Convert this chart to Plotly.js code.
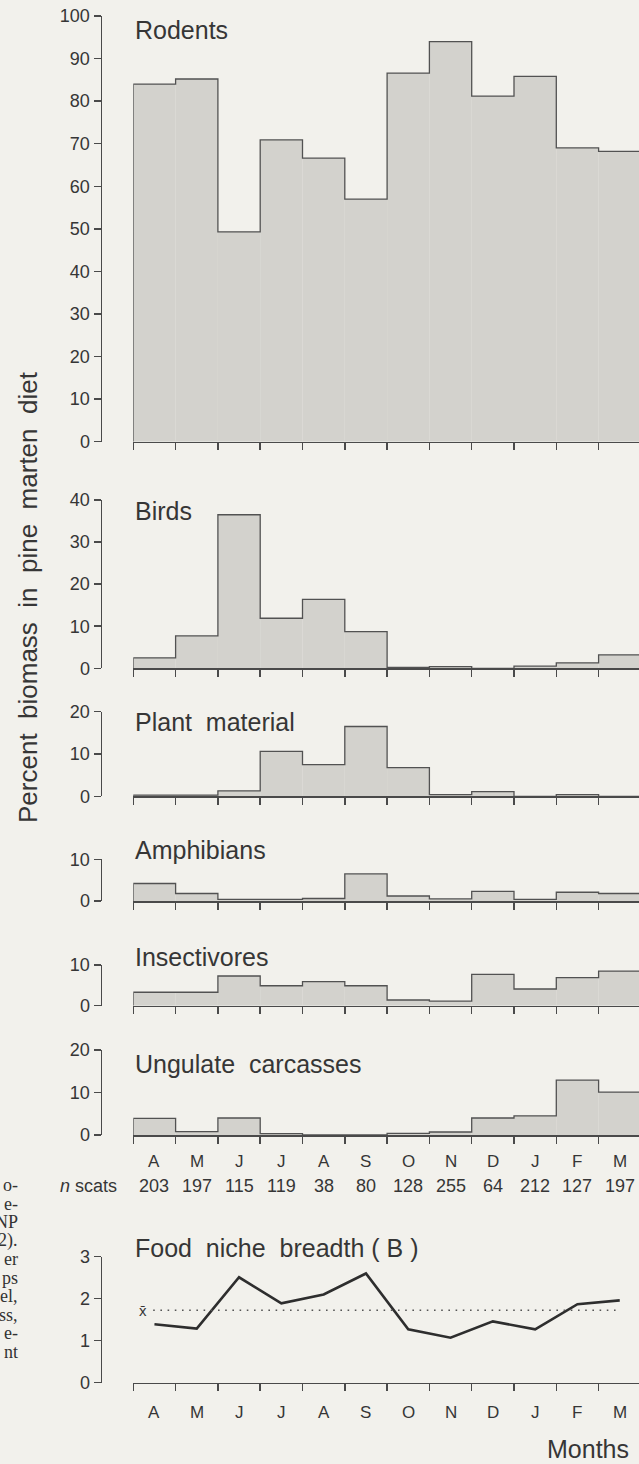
<!DOCTYPE html>
<html>
<head>
<meta charset="utf-8">
<script src="https://cdn.plot.ly/plotly-3.0.1.min.js"></script>
<style>
  html, body { margin: 0; padding: 0; background: #f2f1ec; }
  #chart { width: 639px; height: 1464px; }
</style>
</head>
<body>
<div id="chart"></div>
<script>
// ---------------- data ----------------
const months = ['A','M','J','J','A','S','O','N','D','J','F','M'];
const nScats = [203, 197, 115, 119, 38, 80, 128, 255, 64, 212, 127, 197];

const rodents      = [84.0, 85.2, 49.3, 70.9, 66.6, 57.0, 86.6, 94.0, 81.2, 85.8, 69.0, 68.2];
const birds        = [2.5, 7.7, 36.5, 11.9, 16.4, 8.7, 0.2, 0.4, 0.0, 0.5, 1.3, 3.2];
const plant        = [0.3, 0.3, 1.3, 10.6, 7.5, 16.5, 6.8, 0.4, 1.1, 0.0, 0.4, 0.0];
const amphibians   = [4.2, 1.8, 0.4, 0.4, 0.6, 6.5, 1.2, 0.5, 2.3, 0.4, 2.1, 1.8];
const insectivores = [3.3, 3.3, 7.3, 4.9, 5.9, 4.9, 1.4, 1.1, 7.7, 4.1, 6.9, 8.5];
const ungulates    = [3.9, 0.8, 4.0, 0.3, 0.0, 0.0, 0.4, 0.7, 4.0, 4.5, 12.9, 10.1];
const nicheBreadth = [1.39, 1.29, 2.51, 1.89, 2.10, 2.60, 1.27, 1.07, 1.46, 1.27, 1.87, 1.96];

const panelNames = ['Rodents', 'Birds', 'Plant\u00a0\u00a0material', 'Amphibians',
                    'Insectivores', 'Ungulate\u00a0\u00a0carcasses'];
const panelValues = [rodents, birds, plant, amphibians, insectivores, ungulates];
const panelMax = [100, 40, 20, 10, 10, 20];
const panelTicks = [
  [0,10,20,30,40,50,60,70,80,90,100],
  [0,10,20,30,40],
  [0,10,20],
  [0,10],
  [0,10],
  [0,10,20]
];
const nicheTicks = [0,1,2,3];
const nicheTitle = 'Food\u00a0\u00a0niche\u00a0\u00a0breadth\u00a0( B\u00a0)';
const yTitle = 'Percent\u00a0\u00a0biomass\u00a0\u00a0in\u00a0\u00a0pine\u00a0\u00a0marten\u00a0\u00a0diet';
const captionFragments = ['o-', 'e-', 'NP', '2).', 'er', 'ps', 'el,', 'ss,', 'e-', 'nt'];

// ---------------- layout geometry (pixels) ----------------
const W = 639, H = 1464;
const px = p => p / W;
const py = p => 1 - p / H;
const xLeft = 133.3, xFull = 640.9;            // pixel positions of x = 0 and x = 12
const xEnd = 12 * (W - xLeft) / (xFull - xLeft);
const yAxisPos = 100.5;
// [zero pixel, top pixel] for each panel
const panelPix = [[441.7, 16.0], [668.3, 500.0], [796.3, 711.7], [901.0, 859.3],
                  [1005.7, 965.0], [1135.0, 1050.0], [1382.7, 1256.7]];
const titleY = [29.5, 510.8, 722, 849.5, 956.7, 1064, 1248];

const FONT = 'Liberation Sans, Arial, sans-serif';
const TXT = '#363636';
const AX = '#4a4a4a';
const FILL = '#d3d2cd';
const EDGE = '#525252';

const boundaries = Array.from({length: months.length + 1}, (_, i) => i);
const centers = months.map((_, i) => i + 0.5);

const traces = [];
const layout = {
  width: W, height: H,
  margin: {l: 0, r: 0, t: 0, b: 0, pad: 0},
  paper_bgcolor: '#f2f1ec',
  plot_bgcolor: 'rgba(0,0,0,0)',
  showlegend: false,
  font: {family: FONT, color: TXT},
  annotations: []
};

function addAxes(k, top, tickvals) {
  const [z, t] = panelPix[k - 1];
  layout['xaxis' + k] = {
    domain: [px(xLeft), 1], range: [0, xEnd], anchor: 'y' + k,
    showline: true, linecolor: AX, linewidth: 1.5,
    ticks: 'outside', tickvals: boundaries, ticklen: 7, tickwidth: 1.5, tickcolor: AX,
    showticklabels: false, showgrid: false, zeroline: false, fixedrange: true
  };
  layout['yaxis' + k] = {
    domain: [py(z), py(t)], range: [0, top], anchor: 'free', position: px(yAxisPos),
    showline: true, linecolor: AX, linewidth: 1.5,
    ticks: 'outside', tickvals: tickvals, ticklen: 7, tickwidth: 1.5, tickcolor: AX,
    tickfont: {size: 18, color: TXT, family: FONT},
    showgrid: false, zeroline: false, fixedrange: true
  };
}

panelValues.forEach((vals, i) => {
  const k = i + 1;
  addAxes(k, panelMax[i], panelTicks[i]);
  traces.push({
    type: 'bar', x: centers, y: vals, width: 1,
    marker: {color: FILL, line: {width: 0}},
    xaxis: 'x' + k, yaxis: 'y' + k, hoverinfo: 'skip'
  });
  const sx = [0].concat(boundaries.slice(0, vals.length), [vals.length, vals.length]);
  const sy = [0].concat(vals, [vals[vals.length - 1], 0]);
  traces.push({
    type: 'scatter', mode: 'lines', x: sx, y: sy,
    line: {shape: 'hv', color: EDGE, width: 1.3},
    xaxis: 'x' + k, yaxis: 'y' + k, hoverinfo: 'skip'
  });
  layout.annotations.push({
    text: panelNames[i], xref: 'paper', yref: 'paper', x: px(132.5), y: py(titleY[i]),
    xanchor: 'left', yanchor: 'middle', showarrow: false,
    font: {size: 25, color: TXT, family: FONT}
  });
});

// niche breadth panel
addAxes(7, 3, nicheTicks);
traces.push({
  type: 'scatter', mode: 'lines', x: centers, y: nicheBreadth,
  line: {color: '#2e2e2e', width: 2.6}, xaxis: 'x7', yaxis: 'y7', hoverinfo: 'skip'
});
const meanB = nicheBreadth.reduce((a, b) => a + b, 0) / nicheBreadth.length;
traces.push({
  type: 'scatter', mode: 'lines', x: [0.47, 11.5], y: [meanB, meanB],
  line: {color: '#555', width: 1.6, dash: '1.6px,5.6px'},
  xaxis: 'x7', yaxis: 'y7', hoverinfo: 'skip'
});
layout.annotations.push({
  text: 'x\u0304', xref: 'x7', yref: 'y7', x: 0.24, y: meanB,
  xanchor: 'center', yanchor: 'middle', showarrow: false,
  font: {size: 15, color: TXT, family: FONT}
});
layout.annotations.push({
  text: nicheTitle, xref: 'paper', yref: 'paper', x: px(132.5), y: py(titleY[6]),
  xanchor: 'left', yanchor: 'middle', showarrow: false,
  font: {size: 25, color: TXT, family: FONT}
});

// month labels and n scats
months.forEach((m, i) => {
  layout.annotations.push({
    text: m, xref: 'x6', yref: 'paper', x: centers[i], y: py(1161),
    xanchor: 'center', yanchor: 'middle', showarrow: false,
    font: {size: 17, color: TXT, family: FONT}
  });
  layout.annotations.push({
    text: String(nScats[i]), xref: 'x6', yref: 'paper', x: centers[i], y: py(1186),
    xanchor: 'center', yanchor: 'middle', showarrow: false,
    font: {size: 18, color: TXT, family: FONT}
  });
  layout.annotations.push({
    text: m, xref: 'x7', yref: 'paper', x: centers[i], y: py(1412.5),
    xanchor: 'center', yanchor: 'middle', showarrow: false,
    font: {size: 17, color: TXT, family: FONT}
  });
});
layout.annotations.push({
  text: '<i>n</i> scats', xref: 'paper', yref: 'paper', x: px(119), y: py(1186),
  xanchor: 'right', yanchor: 'middle', showarrow: false,
  font: {size: 18, color: TXT, family: FONT}
});
layout.annotations.push({
  text: 'Months', xref: 'paper', yref: 'paper', x: px(631), y: py(1449),
  xanchor: 'right', yanchor: 'middle', showarrow: false,
  font: {size: 25, color: TXT, family: FONT}
});
layout.annotations.push({
  text: yTitle, xref: 'paper', yref: 'paper', x: px(28), y: py(597),
  xanchor: 'center', yanchor: 'middle', textangle: -90, showarrow: false,
  font: {size: 26, color: TXT, family: FONT}
});

// caption fragments at the left edge
captionFragments.forEach((s, i) => {
  layout.annotations.push({
    text: s, xref: 'paper', yref: 'paper', x: px(20), y: py(1185 + 18.5 * i),
    xanchor: 'right', yanchor: 'middle', showarrow: false,
    font: {size: 18, color: '#333', family: 'Liberation Serif, Times New Roman, serif'}
  });
});

Plotly.newPlot('chart', traces, layout, {staticPlot: true, displayModeBar: false});
</script>
</body>
</html>
